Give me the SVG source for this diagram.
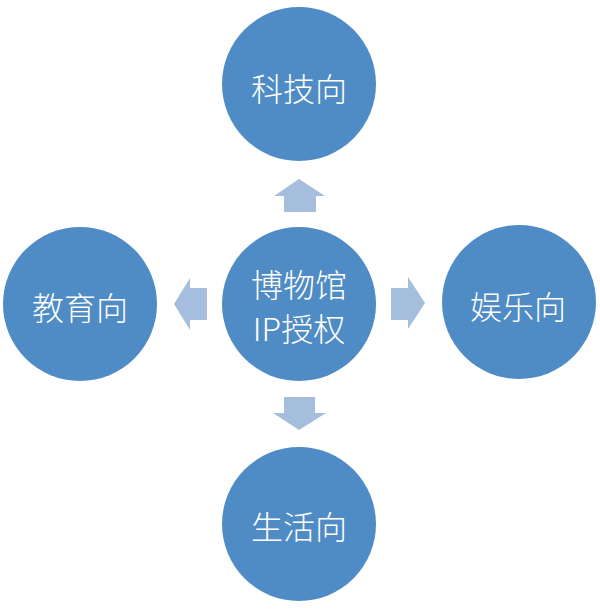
<svg xmlns="http://www.w3.org/2000/svg" width="600" height="610" viewBox="0 0 600 610">
<style>
.node{fill:#4f8bc4;}
.arrow{fill:#a5bedd;}
.lbl{fill:#ffffff;font-family:"Noto Sans CJK SC","Liberation Sans",sans-serif;font-size:32px;font-weight:300;text-anchor:middle;dominant-baseline:central;}
</style>
<rect width="600" height="610" fill="#ffffff"/>
<g id="connectors">
<polygon class="arrow" points="299,179 325,196 316,196 316,212 284,212 284,196 274,196"/>
<polygon class="arrow" points="299,430 326,413 315,413 315,397 284,397 284,413 273,413"/>
<polygon class="arrow" points="174,304 190,278 190,288 207,288 207,320 190,320 190,330"/>
<polygon class="arrow" points="425,303 408,277 408,288 391,288 391,320 408,320 408,329"/>
</g>
<g id="center">
<circle class="node" cx="299" cy="304" r="77"/>
<text class="lbl" x="299" y="283">博物馆</text>
<text class="lbl" x="299" y="327">IP授权</text>
</g>
<g id="top">
<circle class="node" cx="299" cy="84" r="77"/>
<text class="lbl" x="299" y="87">科技向</text>
</g>
<g id="left">
<circle class="node" cx="80" cy="304" r="77"/>
<text class="lbl" x="80" y="306">教育向</text>
</g>
<g id="right">
<circle class="node" cx="519" cy="302" r="77"/>
<text class="lbl" x="518" y="305">娱乐向</text>
</g>
<g id="bottom">
<circle class="node" cx="299" cy="524" r="77"/>
<text class="lbl" x="299" y="525">生活向</text>
</g>
</svg>
